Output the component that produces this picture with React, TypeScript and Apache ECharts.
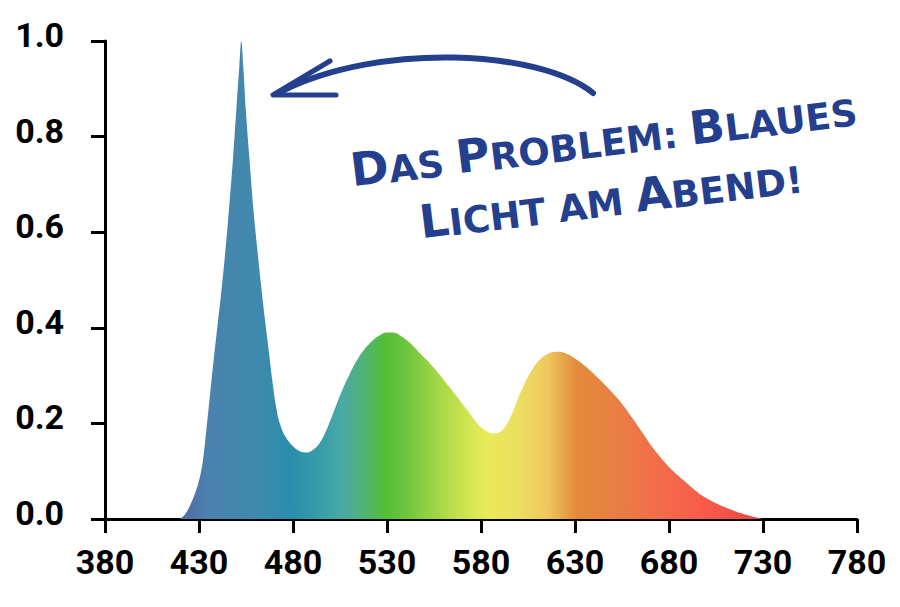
import { useEffect, useRef } from "react";
import * as echarts from "echarts";
import type { ECharts } from "echarts";

// Spectrum samples (wavelength in nm, relative intensity)
const wavelengths = [
  420, 423, 426, 428, 430, 432, 434, 436, 438, 440, 442, 444, 446, 448, 450,
  451.5, 452.5, 453.5, 455, 457, 459, 461, 463, 465, 467, 469, 471, 473, 476,
  480, 484, 487, 490, 494, 498, 502, 506, 510, 514, 518, 522, 526, 530, 533,
  537, 542, 547, 553, 558, 563, 569, 574, 578, 582, 585, 588, 591, 594, 597,
  600, 603, 606, 610, 614, 618, 621, 625, 630, 636, 642, 648, 654, 660, 666,
  671, 677, 682, 688, 693, 698, 705, 712, 720, 730,
];
const intensity = [
  0, 0.012, 0.035, 0.055, 0.08, 0.12, 0.19, 0.265, 0.34, 0.41, 0.48, 0.56,
  0.65, 0.75, 0.865, 0.95, 1.0, 0.95, 0.85, 0.745, 0.645, 0.565, 0.49, 0.42,
  0.355, 0.29, 0.235, 0.2, 0.172, 0.152, 0.141, 0.139, 0.143, 0.158, 0.188,
  0.228, 0.268, 0.302, 0.332, 0.355, 0.372, 0.384, 0.39, 0.39, 0.384, 0.369,
  0.349, 0.325, 0.302, 0.277, 0.247, 0.221, 0.2, 0.186, 0.18, 0.179, 0.185,
  0.2, 0.225, 0.255, 0.282, 0.305, 0.328, 0.342, 0.349, 0.35, 0.347, 0.336,
  0.318, 0.296, 0.272, 0.246, 0.214, 0.18, 0.151, 0.122, 0.101, 0.08, 0.063,
  0.048, 0.033, 0.021, 0.01, 0,
];

// Axis ticks
const xTicks = [380, 430, 480, 530, 580, 630, 680, 730, 780];
const yTicks = [0, 0.2, 0.4, 0.6, 0.8, 1.0];

// Colour of the spectrum at a given wavelength
const spectrumNm = [
  420, 424, 435, 461, 479, 497, 506, 515, 529, 541, 559, 574, 583, 601, 615,
  625, 631, 654, 680, 702, 730,
];
const spectrumColors = [
  "#5a6cae", "#5070a8", "#4a82ad", "#3f8aad", "#2a8dab", "#3aa0a8", "#4aa9a5",
  "#50b080", "#52be38", "#70c63f", "#a8d848", "#d5e653", "#e8ea58", "#ecdd60",
  "#f0c85e", "#e5a248", "#e38a3a", "#ea7d45", "#f5684a", "#f85848", "#ea4242",
];

const NOTE_COLOR = "#253f8f";

const App: React.FC = () => {
  const chartRef = useRef<ECharts>();
  const containerRef = useRef<HTMLDivElement>(null);

  useEffect(() => {
    if (!containerRef.current) return;
    document.body.style.margin = "0";

    chartRef.current = echarts.init(containerRef.current, undefined, {
      renderer: "svg",
    });

    const first = spectrumNm[0];
    const span = spectrumNm[spectrumNm.length - 1] - first;
    const gradient = new echarts.graphic.LinearGradient(
      0,
      0,
      1,
      0,
      spectrumNm.map((nm, i) => ({
        offset: (nm - first) / span,
        color: spectrumColors[i],
      }))
    );

    const labelFont = {
      fontFamily: "Roboto",
      fontWeight: "bold" as const,
      fontSize: 34,
      color: "#000",
    };

    // fake small caps: big initials, smaller capitals for the rest
    const big = {
      fontFamily: "DejaVu Sans",
      fontWeight: "bold" as const,
      fontSize: 46,
      fill: NOTE_COLOR,
      verticalAlign: "bottom" as const,
    };
    const small = { ...big, fontSize: 37 };

    chartRef.current.setOption({
      animation: false,
      grid: {
        left: 105,
        right: 43,
        top: 41,
        bottom: 88,
        containLabel: false,
        outerBoundsMode: "none",
      },
      xAxis: {
        type: "value",
        min: xTicks[0],
        max: xTicks[xTicks.length - 1],
        interval: xTicks[1] - xTicks[0],
        axisLine: { show: true, lineStyle: { color: "#000", width: 3 } },
        axisTick: { show: true, length: 14, lineStyle: { color: "#000", width: 3 } },
        axisLabel: { ...labelFont, margin: 26 },
        splitLine: { show: false },
      },
      yAxis: {
        type: "value",
        min: yTicks[0],
        max: yTicks[yTicks.length - 1],
        interval: yTicks[1] - yTicks[0],
        axisLine: { show: true, lineStyle: { color: "#000", width: 3 } },
        axisTick: { show: true, length: 14, lineStyle: { color: "#000", width: 3 } },
        axisLabel: {
          ...labelFont,
          margin: 41,
          verticalAlign: "bottom",
          lineHeight: 12,
          formatter: (v: number) => v.toFixed(1),
        },
        splitLine: { show: false },
      },
      series: [
        {
          type: "line",
          data: wavelengths.map((w, i) => [w, intensity[i]]),
          smooth: 0.4,
          showSymbol: false,
          lineStyle: { width: 0 },
          areaStyle: { color: gradient, opacity: 1 },
        },
      ],
      graphic: [
        // hand-drawn arrow pointing at the blue peak
        {
          type: "bezierCurve",
          shape: {
            x1: 593, y1: 93,
            cpx1: 540, cpy1: 50,
            cpx2: 380, cpy2: 42,
            x2: 282, y2: 91,
          },
          style: { stroke: NOTE_COLOR, lineWidth: 6, lineCap: "round", fill: null },
        },
        {
          type: "polyline",
          shape: { points: [[330, 61], [273, 95], [336, 95]] },
          style: {
            stroke: NOTE_COLOR,
            lineWidth: 5,
            lineCap: "round",
            lineJoin: "round",
            fill: null,
          },
        },
        {
          type: "group",
          x: 609,
          y: 184,
          rotation: (7 * Math.PI) / 180,
          children: [
            {
              type: "text",
              x: 0,
              y: -22,
              style: {
                text: "{b|D}{s|AS }{b|P}{s|ROBLEM: }{b|B}{s|LAUES}",
                rich: { b: big, s: small },
                align: "center",
                verticalAlign: "bottom",
                fill: NOTE_COLOR,
              },
            },
            {
              type: "text",
              x: 0,
              y: 38,
              style: {
                text: "{b|L}{s|ICHT AM }{b|A}{s|BEND!}",
                rich: { b: big, s: small },
                align: "center",
                verticalAlign: "bottom",
                fill: NOTE_COLOR,
              },
            },
          ],
        },
      ],
    });

    return () => {
      chartRef.current?.dispose();
    };
  }, []);

  return (
    <div
      ref={containerRef}
      style={{ width: "900px", height: "607px" }}
    />
  );
};

export default App;
